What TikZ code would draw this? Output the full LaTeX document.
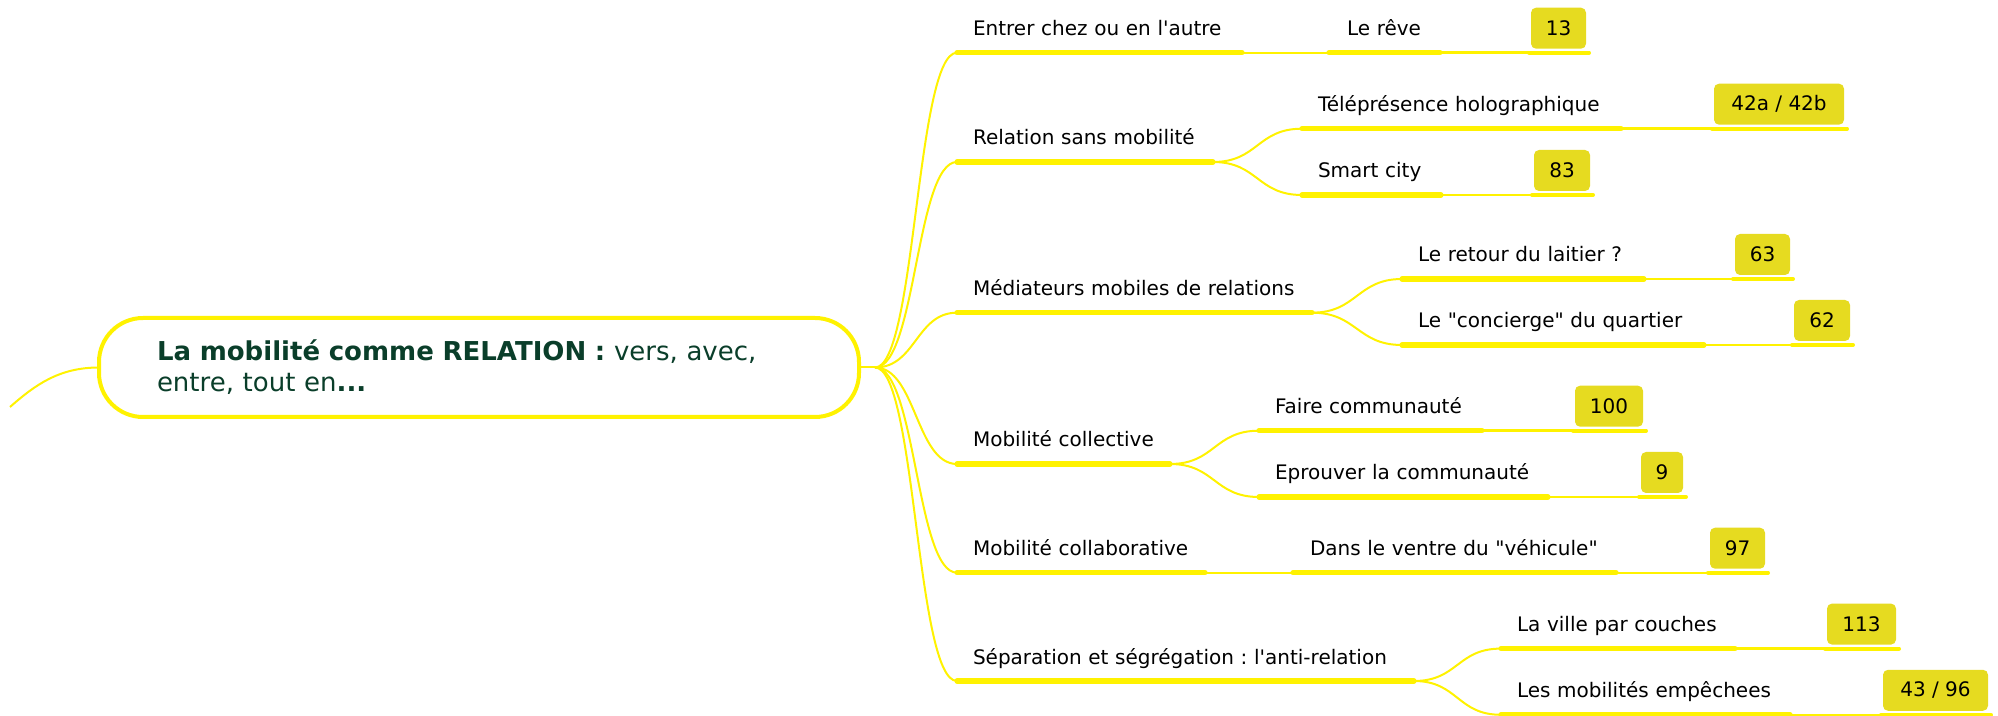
\documentclass[tikz,border=0pt]{standalone}
\usepackage{fontspec}
\newfontfamily\dv{DejaVu Sans}
\usetikzlibrary{calc}
\definecolor{yel}{RGB}{255,242,0}
\definecolor{boxfill}{RGB}{230,219,32}
\definecolor{rootgreen}{RGB}{10,62,42}
\frenchspacing
\begin{document}
\begin{tikzpicture}[x=0.5pt,y=-0.5pt,
  every node/.style={outer sep=0pt},
  txt/.style={font=\dv\frenchspacing\fontsize{10}{12}\selectfont},
  topic/.style={txt, anchor=south west, inner sep=0pt, text depth=8.5pt, text height=8pt, text width=#1, align=left},
  uline/.style={draw=yel, line width=2.6pt, line cap=round},
  buline/.style={draw=yel, line width=2pt, line cap=round},
  conn/.style={draw=yel, line width=1pt},
  numbox/.style={txt, anchor=south west, fill=boxfill, rounded corners=2.5pt, inner sep=0pt, minimum height=20.5pt, minimum width=#1, text=black},
  rootbox/.style={draw=yel, line width=2pt, rounded corners=22pt, minimum width=380pt, minimum height=49.5pt, inner xsep=29pt, inner ysep=0pt, text width=322pt, align=left, text=rootgreen, font=\dv\frenchspacing\fontsize{13}{15.5}\selectfont}
]
\useasboundingbox (0,0) rectangle (1998,716);

% root
\node[rootbox] (root) at (479,367.5) {\textbf{La mobilité comme RELATION :} vers, avec,\\entre, tout en\textbf{...}};
\coordinate (lend) at (10,407);
\coordinate (hub) at (875,367.5);

% level 1
\node[topic=142.5pt] (e1) at (957,52.7) {\hspace*{8pt}\mbox{Entrer chez ou en l'autre}};
\node[topic=128pt] (e2) at (957,162) {\hspace*{8pt}\mbox{Relation sans mobilité}};
\node[topic=177.5pt] (e3) at (957,312.7) {\hspace*{8pt}\mbox{Médiateurs mobiles de relations}};
\node[topic=106.5pt] (e4) at (957,464) {\hspace*{8pt}\mbox{Mobilité collective}};
\node[topic=124pt] (e5) at (957,572.7) {\hspace*{8pt}\mbox{Mobilité collaborative}};
\node[topic=228.5pt] (e6) at (957,681) {\hspace*{8pt}\mbox{Séparation et ségrégation : l'anti-relation}};

% level 2
\node[topic=55.5pt] (t1) at (1329,52.7) {\hspace*{9pt}\mbox{Le rêve}};
\node[topic=159.5pt] (t2) at (1302,128.7) {\hspace*{8pt}\mbox{Téléprésence holographique}};
\node[topic=69.5pt] (t3) at (1302,195) {\hspace*{8pt}\mbox{Smart city}};
\node[topic=121pt] (t4) at (1402,279) {\hspace*{8pt}\mbox{Le retour du laitier ?}};
\node[topic=151pt] (t5) at (1402,345) {\hspace*{8pt}\mbox{Le "concierge" du quartier}};
\node[topic=111.5pt] (t6) at (1259,430.7) {\hspace*{8pt}\mbox{Faire communauté}};
\node[topic=144.5pt] (t7) at (1259,497) {\hspace*{8pt}\mbox{Eprouver la communauté}};
\node[topic=161.5pt] (t8) at (1293,572.7) {\hspace*{8.5pt}\mbox{Dans le ventre du "véhicule"}};
\node[topic=117pt] (t9) at (1501,648.6) {\hspace*{8pt}\mbox{La ville par couches}};
\node[topic=144.5pt] (t10) at (1501,714.8) {\hspace*{8pt}\mbox{Les mobilités empêchees}};

% number boxes
\node[numbox=27.5pt] (b1) at (1531,48.7) {13};
\node[numbox=65pt] (b2) at (1714,124.7) {42a / 42b};
\node[numbox=28pt] (b3) at (1534,191) {83};
\node[numbox=27.5pt] (b4) at (1735,275) {63};
\node[numbox=28pt] (b5) at (1794,341) {62};
\node[numbox=34pt] (b6) at (1575,426.7) {100};
\node[numbox=21pt] (b7) at (1641,493) {9};
\node[numbox=27.5pt] (b8) at (1710,568.7) {97};
\node[numbox=34.5pt] (b9) at (1827,644.6) {113};
\node[numbox=52.5pt] (b10) at (1883,710.8) {43 / 96};

% connectors from root
\draw[conn] (root.west) .. controls +(-40,0) and +(25,-22) .. (lend);
\draw[conn] (root.east) -- (hub);
\foreach \n in {e1,e2,e3,e4,e5,e6}
  \draw[conn] (hub) .. controls +(41,0) and +(-41,0) .. (\n.south west);

% level 1 -> level 2
\draw[conn] (e1.south east) -- (t1.south west);
\draw[conn] (e5.south east) -- (t8.south west);
\draw[conn] (e2.south east) .. controls +(45,0) and +(-45,0) .. (t2.south west);
\draw[conn] (e2.south east) .. controls +(45,0) and +(-45,0) .. (t3.south west);
\draw[conn] (e3.south east) .. controls +(45,0) and +(-45,0) .. (t4.south west);
\draw[conn] (e3.south east) .. controls +(45,0) and +(-45,0) .. (t5.south west);
\draw[conn] (e4.south east) .. controls +(45,0) and +(-45,0) .. (t6.south west);
\draw[conn] (e4.south east) .. controls +(45,0) and +(-45,0) .. (t7.south west);
\draw[conn] (e6.south east) .. controls +(44,0) and +(-44,0) .. (t9.south west);
\draw[conn] (e6.south east) .. controls +(44,0) and +(-44,0) .. (t10.south west);

% level 2 -> boxes
\foreach \t/\b in {t1/b1,t2/b2,t3/b3,t4/b4,t5/b5,t6/b6,t7/b7,t8/b8,t9/b9,t10/b10}
  \draw[conn, line width=1.2pt] (\t.south east) -- (\t.south east -| \b.south west);

% underlines
\foreach \n in {e1,e2,e3,e4,e5,e6,t1,t2,t3,t4,t5,t6,t7,t8,t9,t10}
  \draw[uline] (\n.south west) -- (\n.south east);
\foreach \b in {b1,b2,b3,b4,b5,b6,b7,b8,b9,b10}
  \draw[buline] ([xshift=-1pt,yshift=-2pt]\b.south west) -- ([xshift=1.5pt,yshift=-2pt]\b.south east);
\end{tikzpicture}
\end{document}
